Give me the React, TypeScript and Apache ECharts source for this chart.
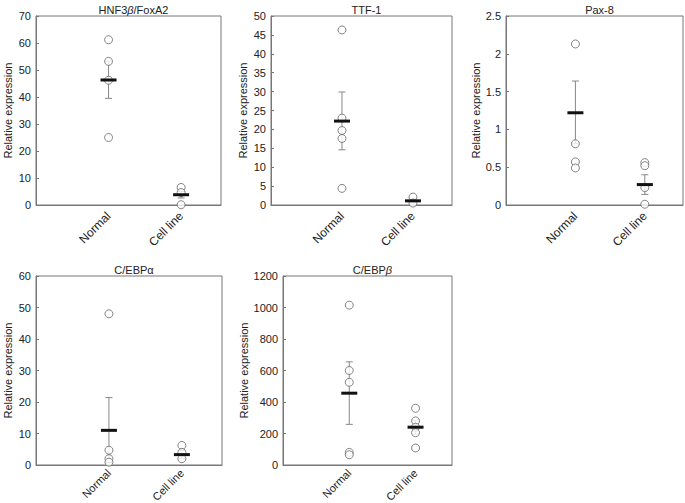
import React, { useEffect, useRef } from "react";
import * as echarts from "echarts";

const categories = ["Normal", "Cell line"];
const titles = ["{a|HNF3}{b|β}{a|/FoxA2}", "{a|TTF-1}", "{a|Pax-8}", "{a|C/EBPα}", "{a|C/EBP}{b|β}"];

// panel 1: HNF3β/FoxA2
const hnfNormal = [61.2, 53.2, 46.2, 25.0];
const hnfCell = [6.5, 4.6, 0.1];
const hnfMean = [46.3, 3.8];
const hnfLow = [39.5, 2.6];
const hnfHigh = [53.2, 5.0];

// panel 2: TTF-1
const ttfNormal = [46.3, 23.0, 19.7, 17.6, 4.4];
const ttfCell = [2.1, 0.5];
const ttfMean = [22.2, 1.1];
const ttfLow = [14.6, 0.6];
const ttfHigh = [29.9, 1.6];

// panel 3: Pax-8
const paxNormal = [2.13, 0.81, 0.57, 0.49];
const paxCell = [0.56, 0.52, 0.23, 0.01];
const paxMean = [1.22, 0.27];
const paxLow = [0.81, 0.14];
const paxHigh = [1.64, 0.4];

// panel 4: C/EBPα
const cebpaNormal = [48.0, 4.7, 2.0, 0.9];
const cebpaCell = [6.2, 4.0, 2.0];
const cebpaMean = [11.0, 3.3];
const cebpaLow = [0.7, 2.0];
const cebpaHigh = [21.4, 4.6];

// panel 5: C/EBPβ
const cebpbNormal = [1015, 600, 525, 80, 65];
const cebpbCell = [360, 280, 240, 205, 108];
const cebpbMean = [456, 240];
const cebpbLow = [258, 195];
const cebpbHigh = [655, 285];

const yMax = [70, 50, 2.5, 60, 1200];
const yInterval = [10, 5, 0.5, 10, 200];

const panels = [
  { normal: hnfNormal, cell: hnfCell, mean: hnfMean, low: hnfLow, high: hnfHigh },
  { normal: ttfNormal, cell: ttfCell, mean: ttfMean, low: ttfLow, high: ttfHigh },
  { normal: paxNormal, cell: paxCell, mean: paxMean, low: paxLow, high: paxHigh },
  { normal: cebpaNormal, cell: cebpaCell, mean: cebpaMean, low: cebpaLow, high: cebpaHigh },
  { normal: cebpbNormal, cell: cebpbCell, mean: cebpbMean, low: cebpbLow, high: cebpbHigh },
];

const grids = [
  { left: 36, top: 16, width: 185, height: 189 },
  { left: 271, top: 16, width: 181, height: 189 },
  { left: 506, top: 16, width: 177, height: 189 },
  { left: 36, top: 276, width: 186, height: 189 },
  { left: 283, top: 276, width: 169, height: 189 },
];
const nameGaps = [23, 23, 24, 23, 34];
const xLabelSize = [12, 12, 12, 11, 11];
const xLabelMargin = [9, 9, 9, 6, 6];

const FONT = "Liberation Sans, Arial, Helvetica, sans-serif";

export default function App() {
  const ref = useRef<HTMLDivElement>(null);
  useEffect(() => {
    if (!ref.current) return;
    const chart = echarts.init(ref.current, undefined, { renderer: "svg" });

    const xAxis: any[] = [];
    const yAxis: any[] = [];
    const series: any[] = [];
    const title: any[] = [];

    grids.forEach((g, i) => {
      title.push({
        text: titles[i],
        left: g.left + g.width / 2,
        top: g.top - 17,
        textAlign: "center",
        textStyle: {
          fontFamily: FONT,
          fontSize: 11,
          fontWeight: "normal",
          color: "#222",
          rich: {
            a: { fontFamily: FONT, fontSize: 11, color: "#222" },
            b: { fontFamily: FONT, fontSize: 11, color: "#222", fontStyle: "italic" },
          },
        },
      });
      xAxis.push({
        type: "value",
        gridIndex: i,
        min: 0,
        max: 2.55,
        interval: 1,
        axisLine: { show: true, lineStyle: { color: "#777" } },
        axisTick: { show: false },
        splitLine: { show: false },
        axisLabel: {
          showMaxLabel: false,
          showMinLabel: false,
          rotate: 45,
          margin: xLabelMargin[i],
          fontFamily: FONT,
          fontSize: xLabelSize[i],
          color: "#222",
          formatter: (v: number) => (v === 1 ? categories[0] : v === 2 ? categories[1] : ""),
        },
      });
      yAxis.push({
        type: "value",
        gridIndex: i,
        min: 0,
        max: yMax[i],
        interval: yInterval[i],
        name: "Relative expression",
        nameLocation: "middle",
        nameRotate: 90,
        nameGap: nameGaps[i],
        nameTextStyle: { fontFamily: FONT, fontSize: 11, color: "#222" },
        axisLine: { show: true, lineStyle: { color: "#777" } },
        axisTick: { show: true, inside: true, length: 3, lineStyle: { color: "#777" } },
        splitLine: { show: false },
        axisLabel: {
          margin: 5,
          fontFamily: FONT,
          fontSize: 11,
          color: "#222",
          formatter: (v: number) => String(v),
        },
      });

      const p = panels[i];
      const barData = [
        [1, p.mean[0], p.low[0], p.high[0]],
        [2, p.mean[1], p.low[1], p.high[1]],
      ];
      series.push({
        type: "custom",
        xAxisIndex: i,
        yAxisIndex: i,
        z: 1,
        clip: false,
        data: barData,
        encode: { x: 0, y: 1 },
        renderItem: (params: any, api: any) => {
          const x = api.value(0);
          const a = api.coord([x, api.value(2)]);
          const b = api.coord([x, api.value(3)]);
          const cap = 3.5;
          const st = { stroke: "#888", lineWidth: 1 };
          return {
            type: "group",
            children: [
              { type: "line", shape: { x1: a[0], y1: a[1], x2: b[0], y2: b[1] }, style: st },
              { type: "line", shape: { x1: a[0] - cap, y1: a[1], x2: a[0] + cap, y2: a[1] }, style: st },
              { type: "line", shape: { x1: b[0] - cap, y1: b[1], x2: b[0] + cap, y2: b[1] }, style: st },
            ],
          };
        },
      });
      series.push({
        type: "scatter",
        xAxisIndex: i,
        yAxisIndex: i,
        z: 2,
        symbol: "circle",
        symbolSize: 8,
        itemStyle: { color: "#fff", borderColor: "#666", borderWidth: 1 },
        data: [
          ...p.normal.map((v) => [1, v]),
          ...p.cell.map((v) => [2, v]),
        ],
      });
      series.push({
        type: "custom",
        xAxisIndex: i,
        yAxisIndex: i,
        z: 3,
        clip: false,
        data: barData,
        encode: { x: 0, y: 1 },
        renderItem: (params: any, api: any) => {
          const c = api.coord([api.value(0), api.value(1)]);
          return {
            type: "line",
            shape: { x1: c[0] - 8, y1: c[1], x2: c[0] + 8, y2: c[1] },
            style: { stroke: "#111", lineWidth: 3 },
          };
        },
      });
    });

    chart.setOption({
      animation: false,
      backgroundColor: "#fff",
      title,
      grid: grids.map((g) => ({
        ...g,
        show: true,
        containLabel: false,
        outerBoundsMode: "none",
        borderColor: "#777",
        borderWidth: 1,
        backgroundColor: "transparent",
      })),
      xAxis,
      yAxis,
      series,
    });
    return () => chart.dispose();
  }, []);
  return (
    <div
      ref={ref}
      style={{ position: "absolute", left: 0, top: 0, width: 685, height: 503, background: "#fff" }}
    />
  );
}
